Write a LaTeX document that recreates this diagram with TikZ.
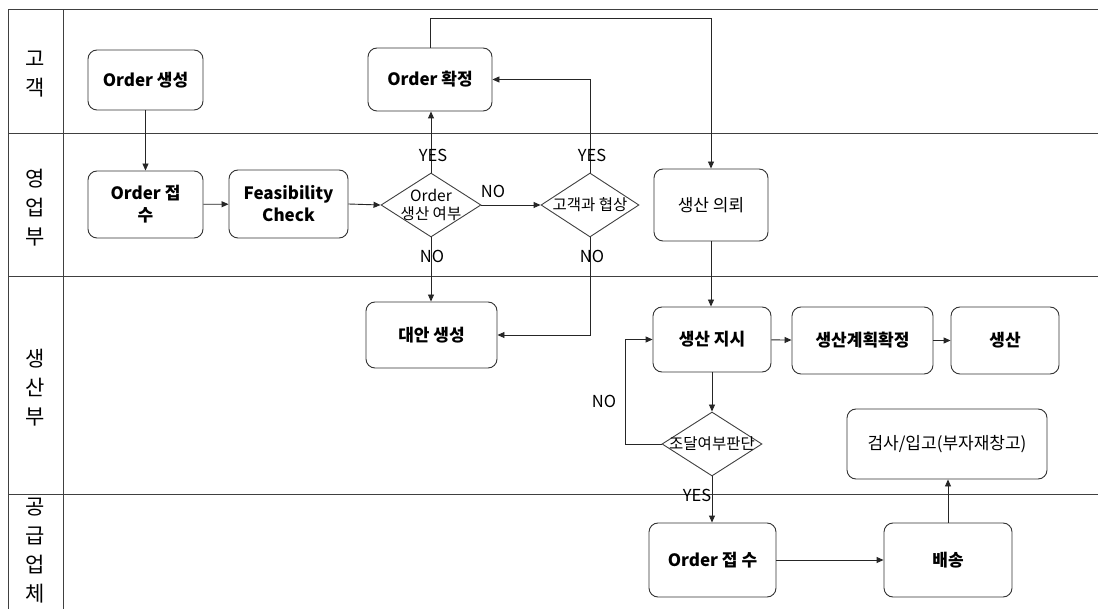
\documentclass[tikz,border=0pt]{standalone}
\usepackage{fontspec}
\setmainfont{Noto Sans CJK KR}
\usetikzlibrary{arrows.meta,shapes.geometric}
\begin{document}
\begin{tikzpicture}[x=1pt,y=-1pt,
  lane/.style={draw=black!75, line width=1pt},
  lanetext/.style={align=center, inner sep=0pt, font=\fontsize{21}{29}\selectfont},
  box/.style={draw=black!80, rounded corners=9pt, line width=0.9pt, align=center,
    inner sep=0pt, font=\bfseries\fontsize{17}{22}\selectfont},
  dia/.style={draw=black!75, diamond, line width=0.9pt, inner sep=0pt},
  diatext/.style={align=center, inner sep=0pt, font=\fontsize{15.5}{18}\selectfont},
  lbl/.style={inner sep=0pt, font=\fontsize{16.5}{18}\selectfont},
  arr/.style={draw=black!85, line width=0.9pt, -{Triangle[length=7pt,width=6pt]}}
]
\useasboundingbox (0,0) rectangle (1098,609);
\fill[white] (0,0) rectangle (1098,609);

% swimlane frame
\draw[lane] (1098,10) -- (8,10) -- (8,609);
\draw[lane] (63,10) -- (63,609);
\draw[lane] (8,134) -- (1098,134);
\draw[lane] (8,277) -- (1098,277);
\draw[lane] (8,494) -- (1098,494);

% lane titles
\node[lanetext] (l1) at (35,74) {고\\객};
\node[lanetext] (l2) at (35,208) {영\\업\\부};
\node[lanetext] (l3) at (35,388) {생\\산\\부};
\node[lanetext] (l4) at (35,551) {공\\급\\업\\체};

% process boxes
\node[box, minimum width=115, minimum height=60] (create) at (145.5,80) {Order 생성};
\node[box, minimum width=124, minimum height=63] (confirm) at (430,79.5) {Order 확정};
\node[box, minimum width=115, minimum height=67] (receive) at (145.5,204.5) {Order 접\\수};
\node[box, minimum width=119, minimum height=68] (feas) at (288.5,204) {Feasibility\\Check};
\node[box, minimum width=114, minimum height=72] (req) at (711,205) {\mdseries 생산 의뢰};
\node[box, minimum width=131, minimum height=66] (alt) at (431.5,335) {대안 생성};
\node[box, minimum width=118, minimum height=65] (inst) at (712,339.5) {생산 지시};
\node[box, minimum width=141, minimum height=67] (plan) at (862.5,340.5) {생산계획확정};
\node[box, minimum width=108, minimum height=67] (prod) at (1005,340.5) {생산};
\node[box, minimum width=200, minimum height=70] (insp) at (947,444) {\mdseries 검사/입고(부자재창고)};
\node[box, minimum width=127, minimum height=74] (sorder) at (712.5,560) {Order 접 수};
\node[box, minimum width=128, minimum height=74] (ship) at (948,560) {배송};

% decisions
\node[dia, minimum width=100, minimum height=64] (d1) at (431,205) {};
\node[diatext] (d1t) at (d1) {Order\\생산 여부};
\node[dia, minimum width=98, minimum height=64] (d2) at (590,205) {};
\node[diatext] (d2t) at (d2) {고객과 협상};
\node[dia, minimum width=100, minimum height=64] (d3) at (712,444) {};
\node[diatext] (d3t) at (d3) {조달여부판단};

% flow
\draw[arr] (create) -- (receive);
\draw[arr] (receive) -- (feas);
\draw[arr] (feas.east) -- (d1.west);
\draw[arr] (d1.north) -- (d1.north |- confirm.south);
\draw[arr] (d1.east) -- (d2.west);
\draw[arr] (d1.south) -- (d1.south |- alt.north);
\draw[arr] (d2.north) |- (confirm.east);
\draw[arr] (d2.south) |- (alt.east);
\coordinate (top) at (430,18);
\draw[arr] (confirm.north) -- (top) -| (req.north);
\draw[arr] (req.south) -- (req.south |- inst.north);
\draw[arr] (inst) -- (plan);
\draw[arr] (plan) -- (prod);
\draw[arr] (inst.south) -- (d3.north);
\coordinate (loop) at (625,444);
\draw[arr] (d3.west) -- (loop) |- (inst.west);
\draw[arr] (d3.south) -- (d3.south |- sorder.north);
\draw[arr] (sorder) -- (ship);
\draw[arr] (ship.north) -- (ship.north |- insp.south);

% branch labels
\node[lbl] (y1) at (433,155) {YES};
\node[lbl] (n1) at (493,191) {NO};
\node[lbl] (n2) at (432,256) {NO};
\node[lbl] (y2) at (592,155) {YES};
\node[lbl] (n3) at (592,256) {NO};
\node[lbl] (n4) at (604,401) {NO};
\node[lbl] (y3) at (697,495) {YES};
\end{tikzpicture}
\end{document}
